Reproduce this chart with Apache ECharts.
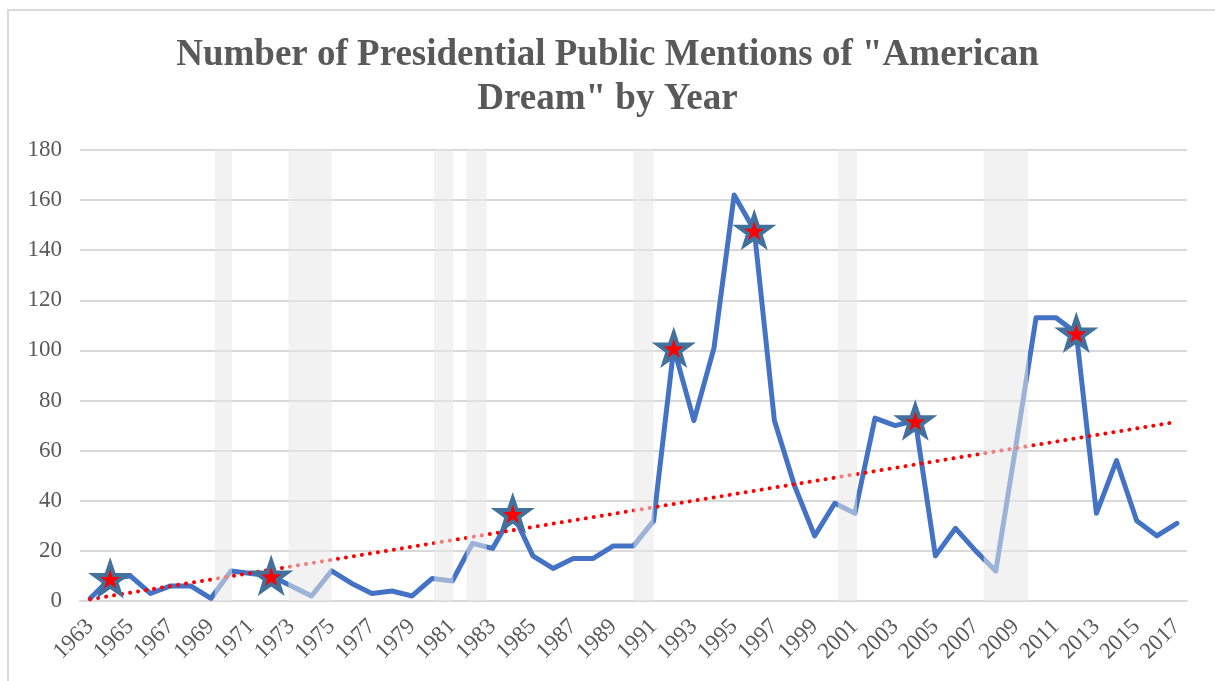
<!DOCTYPE html>
<html>
<head>
<meta charset="utf-8">
<title>American Dream mentions</title>
<script src="https://cdn.jsdelivr.net/npm/echarts@6/dist/echarts.min.js"></script>
<style>
    html, body { margin: 0; padding: 0; background: #fff; }
    #chart { width: 1215px; height: 681px; }
</style>
</head>
<body>
<div id="chart"></div>
<script>
    // years on the category axis
    var years = ['1963', '1964', '1965', '1966', '1967', '1968', '1969', '1970', '1971', '1972',
        '1973', '1974', '1975', '1976', '1977', '1978', '1979', '1980', '1981', '1982',
        '1983', '1984', '1985', '1986', '1987', '1988', '1989', '1990', '1991', '1992',
        '1993', '1994', '1995', '1996', '1997', '1998', '1999', '2000', '2001', '2002',
        '2003', '2004', '2005', '2006', '2007', '2008', '2009', '2010', '2011', '2012',
        '2013', '2014', '2015', '2016', '2017'];
    // mentions per year
    var mentions = [1, 9, 10, 3, 6, 6, 1, 12, 11, 10,
        6, 2, 12, 7, 3, 4, 2, 9, 8, 23,
        21, 35, 18, 13, 17, 17, 22, 22, 32, 101,
        72, 101, 162, 148, 72, 46, 26, 39, 35, 73,
        70, 72, 18, 29, 20, 12, 62, 113, 113, 107,
        35, 56, 32, 26, 31];
    // presidential election years marked with a star
    var electionYears = ['1964', '1972', '1984', '1992', '1996', '2004', '2012'];
    // linear trend, read at both ends
    var trendYears = ['1963', '2017'];
    var trendValues = [0.7, 71.5];
    // shaded recession periods (start, end in fractional years)
    var recessions = [[1969.2, 1970.05], [1972.85, 1975.0], [1980.1, 1981.05], [1981.7, 1982.7],
        [1990.0, 1991.0], [2000.15, 2001.1], [2007.4, 2009.6]];
    var yTicks = {min: 0, max: 180, interval: 20};

    var starPath = 'path://M50,0 L61.8,35.1 L98.1,35.1 L68.8,56.7 L79.4,90.5 L50,69.6 L20.6,90.5 L31.2,56.7 L1.9,35.1 L38.2,35.1 Z';
    var serif = '"Liberation Serif", "Times New Roman", serif';

    var myChart = echarts.init(document.getElementById('chart'));

    var starData = electionYears.map(function (y) {
        return [y, mentions[years.indexOf(y)]];
    });
    var trendData = trendYears.map(function (y, i) {
        return [y, trendValues[i]];
    });
    var bandData = recessions.map(function (r) {
        return [{xAxis: r[0], yAxis: yTicks.min}, {xAxis: r[1], yAxis: yTicks.max}];
    });

    var option = {
        animation: false,
        title: {
            text: 'Number of Presidential Public Mentions of "American\nDream" by Year',
            left: 'center',
            top: 28,
            textStyle: {
                fontFamily: serif,
                fontWeight: 'bold',
                fontSize: 37,
                lineHeight: 44,
                color: '#595959'
            }
        },
        graphic: [{
            type: 'rect',
            shape: {x: 8, y: 10, width: 1230, height: 700},
            style: {fill: null, stroke: '#d9d9d9', lineWidth: 2},
            silent: true
        }],
        grid: {
            left: 80,
            right: 28,
            top: 150,
            bottom: 80
        },
        xAxis: [{
            type: 'category',
            data: years,
            boundaryGap: true,
            axisTick: {show: false},
            axisLine: {lineStyle: {color: '#d9d9d9', width: 2}},
            axisLabel: {
                interval: 1,
                rotate: 45,
                margin: 22,
                fontFamily: serif,
                fontSize: 23,
                color: '#595959'
            },
            splitLine: {show: false}
        }, {
            type: 'value',
            min: 1962.5,
            max: 2017.5,
            show: false,
            splitLine: {show: false}
        }],
        yAxis: {
            type: 'value',
            min: yTicks.min,
            max: yTicks.max,
            interval: yTicks.interval,
            axisLine: {show: false},
            axisTick: {show: false},
            axisLabel: {
                margin: 18,
                fontFamily: serif,
                fontSize: 23,
                color: '#595959'
            },
            splitLine: {lineStyle: {color: '#d9d9d9', width: 2}}
        },
        series: [{
            name: 'Mentions',
            type: 'line',
            data: mentions,
            symbol: 'none',
            z: 2,
            lineStyle: {color: '#4472c4', width: 5, cap: 'round', join: 'round'}
        }, {
            name: 'Trend',
            type: 'line',
            data: trendData,
            symbol: 'none',
            z: 2,
            lineStyle: {color: '#ff0000', width: 4, type: [0.1, 8], cap: 'round'}
        }, {
            name: 'Recession',
            type: 'line',
            xAxisIndex: 1,
            data: [],
            z: 3,
            markArea: {
                silent: true,
                z: 3,
                itemStyle: {color: 'rgba(231,231,231,0.55)'},
                data: bandData
            }
        }, {
            name: 'Election',
            type: 'scatter',
            data: starData,
            symbol: starPath,
            symbolSize: 32,
            symbolKeepAspect: true,
            z: 5,
            itemStyle: {color: '#ff0000', borderColor: '#41719c', borderWidth: 4, opacity: 1}
        }]
    };
    myChart.setOption(option);
</script>
</body>
</html>
